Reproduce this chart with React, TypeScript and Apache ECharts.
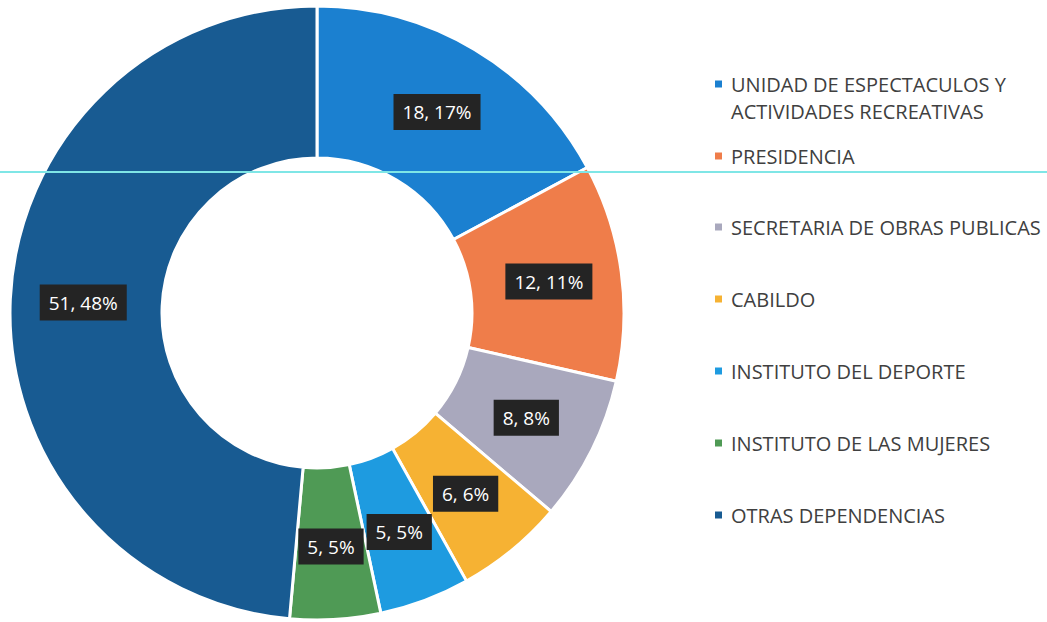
import React, { useEffect, useRef } from "react";
import * as echarts from "echarts";

const categories = [
  "UNIDAD DE ESPECTACULOS Y\nACTIVIDADES RECREATIVAS",
  "PRESIDENCIA",
  "SECRETARIA DE OBRAS PUBLICAS",
  "CABILDO",
  "INSTITUTO DEL DEPORTE",
  "INSTITUTO DE LAS MUJERES",
  "OTRAS DEPENDENCIAS",
];
const values = [18, 12, 8, 6, 5, 5, 51];
const pctLabels = ["17%", "11%", "8%", "6%", "5%", "5%", "48%"];
const colors = ["#1B80D0", "#EF7D4A", "#A9A8BD", "#F6B233", "#1E9BE0", "#4F9A55", "#185B92"];
const legendCenters = [84, 156, 227, 299, 371, 443, 515];

export default function App() {
  const ref = useRef<HTMLDivElement>(null);
  useEffect(() => {
    document.body.style.margin = "0";
    const chart = echarts.init(ref.current!, null, { renderer: "svg" });
    const font = "Open Sans";
    const LH = 27;
    const legends = categories.map((name, i) => {
      const multi = name.includes("\n");
      return {
        orient: "vertical",
        left: 713,
        top: legendCenters[i] - (multi ? 1.5 * LH : LH / 2),
        padding: 0,
        icon: "rect",
        itemWidth: 9,
        itemHeight: 9,
        itemGap: 0,
        selectedMode: false,
        data: [name],
        formatter: (n: string) => (n.includes("\n") ? " \n" + n : n),
        textStyle: {
          fontFamily: font,
          fontSize: 20,
          color: "#404040",
          lineHeight: LH,
          padding: [0, 0, 0, 3],
        },
      };
    });
    chart.setOption({
      animation: false,
      backgroundColor: "#ffffff",
      color: colors,
      legend: legends,
      series: [
        {
          type: "pie",
          center: [317, 313],
          radius: [155, 307],
          startAngle: 90,
          clockwise: true,
          avoidLabelOverlap: false,
          itemStyle: { borderColor: "#ffffff", borderWidth: 3 },
          label: {
            show: true,
            position: "inside",
            formatter: (p: any) => `${p.value}, ${pctLabels[p.dataIndex]}`,
            color: "#ffffff",
            backgroundColor: "#242424",
            padding: [7, 9, 7, 9],
            lineHeight: 22,
            fontFamily: font,
            fontSize: 19,
          },
          labelLine: { show: false },
          emphasis: { disabled: true },
          data: categories.map((name, i) => ({ name, value: values[i] })),
        },
      ],
      graphic: [
        {
          type: "line",
          z: 100,
          shape: { x1: 0, y1: 172, x2: 1047, y2: 172 },
          style: { stroke: "#7FE6E6", lineWidth: 2 },
        },
      ],
    });
    return () => chart.dispose();
  }, []);
  return <div ref={ref} style={{ width: 1047, height: 622 }} />;
}
